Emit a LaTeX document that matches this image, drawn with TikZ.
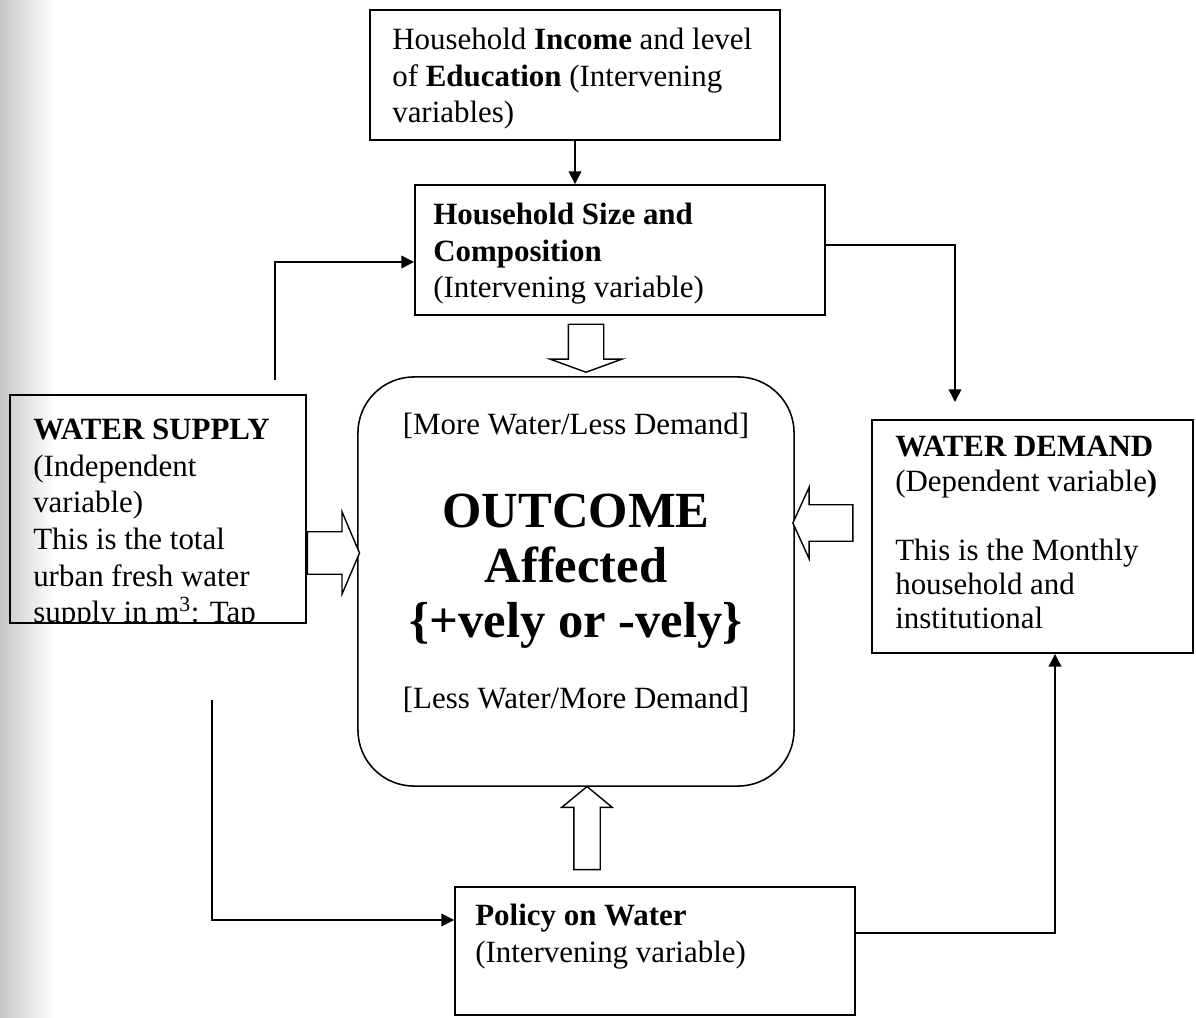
\documentclass[tikz,border=0pt]{standalone}
\usepackage{fontspec}
\setmainfont{Liberation Serif}
\usetikzlibrary{arrows.meta,shapes.arrows}

\newcommand\boxfont{\fontsize{22}{26}\selectfont}
\newcommand\bigfont{\fontsize{36}{39}\selectfont}

\tikzset{
  box/.style={draw, line width=1.3pt, inner sep=0pt},
  boxtext/.style={anchor=north west, align=left, inner sep=0pt, font=\boxfont},
  hollow/.style={shape=single arrow, draw, fill=white, line width=1pt, inner xsep=0pt},
  link/.style={line width=1.1pt}
}

\begin{document}
\begin{tikzpicture}[x=0.025cm, y=-0.025cm, >={Triangle[length=9pt,width=9pt]}]
  \useasboundingbox (0,0) rectangle (1196,1018);
  % grey edge of the scanned page
  \shade[left color=black!22, right color=white] (0,0) rectangle (55,1018);

  % boxes
  \node[box, minimum width=10.25cm, minimum height=3.25cm] (income) at (575,75) {};
  \node[box, minimum width=10.25cm, minimum height=3.25cm] (size) at (620,250) {};
  \node[box, minimum width=7.4cm, minimum height=5.7cm] (supply) at (158,509) {};
  \node[box, rounded corners=1.4cm, line width=1.1pt, minimum width=10.9cm, minimum height=10.225cm] (outcome) at (576,581.5) {};
  \node[box, minimum width=8.025cm, minimum height=5.825cm] (demand) at (1032.5,536.5) {};
  \node[box, minimum width=10cm, minimum height=3.2cm] (policy) at (655,951) {};

  % texts
  \node[boxtext] (income text) at (392,28) {Household \textbf{Income} and level\\ of \textbf{Education} (Intervening\\ variables)};
  \node[boxtext] (size text) at (433,203) {\textbf{Household Size and}\\ \textbf{Composition}\\ (Intervening variable)};
  \begin{scope}
    \clip (supply.south west) rectangle (supply.north east);
    \node[boxtext] (supply text) at (33,419) {\textbf{WATER SUPPLY}\\ (Independent\\ variable)\\ This is the total\\ urban fresh water\\ supply in m\textsuperscript{3}: Tap};
  \end{scope}
  \node[boxtext, font=\fontsize{22}{24.5}\selectfont] (demand text) at (895,436) {\textbf{WATER DEMAND}\\ (Dependent variable\textbf{)}\\[24.5pt] This is the Monthly\\ household and\\ institutional};
  \node[boxtext] (policy text) at (475,904) {\textbf{Policy on Water}\\ (Intervening variable)};

  \node[anchor=base, inner sep=0pt, font=\boxfont] (more) at (576,434) {[More Water/Less Demand]};
  \node[anchor=north, align=center, inner sep=0pt, font=\bigfont\bfseries] (outtext) at (576,494) {OUTCOME\\ Affected\\ \{+vely or -vely\}};
  \node[anchor=base, inner sep=0pt, font=\boxfont] (less) at (576,708) {[Less Water/More Demand]};

  % hollow arrows into the outcome
  \node[hollow, rotate=-90, inner ysep=0.425cm, minimum height=1.2cm, single arrow head extend=0.4625cm, single arrow tip angle=140] (down arrow) at (586,345) {};
  \node[hollow, inner ysep=0.5125cm, minimum height=1.3cm, single arrow head extend=0.5cm, single arrow tip angle=134] (right arrow) at (329,553) {};
  \node[hollow, rotate=180, inner ysep=0.4375cm, minimum height=1.5cm, single arrow head extend=0.4375cm, single arrow tip angle=131] (left arrow) at (827,523) {};
  \node[hollow, rotate=90, inner ysep=0.3125cm, minimum height=2.075cm, single arrow head extend=0.3cm, single arrow tip angle=101] (up arrow) at (587,833.5) {};

  % connectors
  \coordinate (supply top) at (275,380);
  \coordinate (supply bottom) at (212,700);
  \coordinate (demand top) at (955,402);
  \draw[link,->] (income.south) -- (income.south |- size.north);
  \draw[link,->] (supply top) |- ([yshift=-0.3cm]size.west);
  \draw[link,->] ([yshift=0.125cm]size.east) -| (demand top);
  \draw[link,->] (supply bottom) |- ([yshift=0.775cm]policy.west);
  \draw[link,->] ([yshift=0.45cm]policy.east) -| ([xshift=0.5625cm]demand.south);
\end{tikzpicture}
\end{document}
